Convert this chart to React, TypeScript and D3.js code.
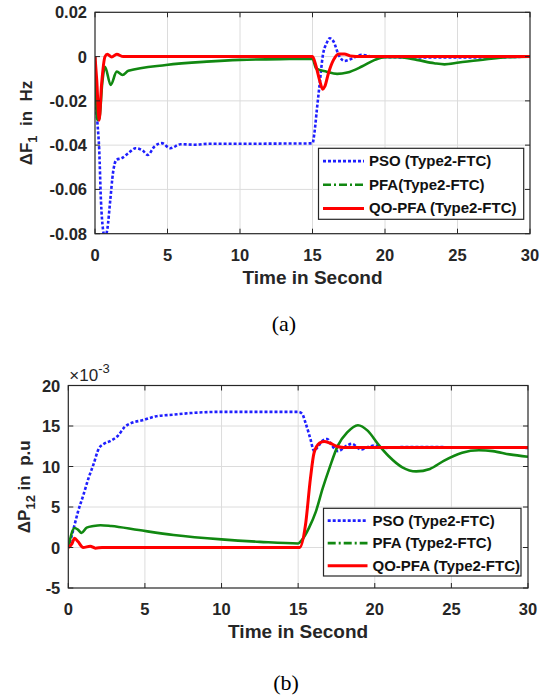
import React from 'react';
import * as d3 from 'd3';

const width = 545;
const height = 698;

// ---- data ----
const xTicks = [0, 5, 10, 15, 20, 25, 30];

const f1Ticks = [0.02, 0, -0.02, -0.04, -0.06, -0.08];
const p12Ticks = [20, 15, 10, 5, 0, -5];

const legendF1 = ['PSO (Type2-FTC)', 'PFA(Type2-FTC)', 'QO-PFA (Type2-FTC)'];
const legendP12 = ['PSO (Type2-FTC)', 'PFA (Type2-FTC)', 'QO-PFA (Type2-FTC)'];

// delta F1 (Hz)
const psoF1: [number, number][] = [
    [0, 0], [0.05, -0.018], [0.17, -0.03], [0.29, -0.042], [0.41, -0.065], [0.55, -0.078],
    [0.68, -0.0815], [0.85, -0.078], [1.05, -0.065], [1.24, -0.0526], [1.48, -0.0466],
    [1.84, -0.0459], [2.3, -0.0436], [2.8, -0.0414], [3.28, -0.0424], [3.64, -0.0444],
    [4.1, -0.0406], [4.6, -0.0391], [5.2, -0.0414], [5.9, -0.0396], [6.9, -0.0398],
    [7.8, -0.0394], [10, -0.0394], [12.5, -0.0393], [15.0, -0.0392], [15.13, -0.0346],
    [15.3, -0.024], [15.5, -0.012], [15.7, 0], [15.97, 0.006], [16.2, 0.0083],
    [16.45, 0.0068], [16.8, 0.0008], [17.2, -0.002], [17.5, -0.0015], [18.4, 0.0008],
    [19.1, 0], [22, -0.0004], [26, -0.0004], [30, 0],
];
const pfaF1: [number, number][] = [
    [0, 0], [0.16, -0.0286], [0.3, -0.028], [0.5, -0.012], [0.69, -0.0046], [1.08, -0.0128],
    [1.5, -0.0068], [1.9, -0.0083], [2.3, -0.0064], [4.9, -0.0038], [7.7, -0.0023],
    [10, -0.0015], [13.4, -0.0011], [15.0, -0.001], [15.25, -0.0053], [15.97, -0.0068],
    [16.7, -0.0078], [17.4, -0.0072], [18.4, -0.0045], [19.3, -0.0015], [20.0, -0.0003],
    [21, -0.0003], [22.2, -0.0015], [23.4, -0.003], [24.1, -0.0035], [25.1, -0.0027],
    [27, -0.0012], [28.4, -0.0003], [30, 0],
];
const qoF1: [number, number][] = [
    [0, 0], [0.12, -0.0106], [0.28, -0.0288], [0.46, -0.012], [0.69, 0], [0.85, 0.001],
    [1.15, -0.0002], [1.5, 0.001], [1.95, 0], [15.0, 0], [15.25, -0.0045], [15.5, -0.011],
    [15.7, -0.0147], [15.85, -0.0135], [16.1, -0.0075], [16.45, -0.0015], [16.8, 0.0012],
    [17.2, 0.0012], [17.6, 0.0003], [18.4, 0], [30, 0],
];

// delta P12 (x 10^-3 p.u)
const psoP12: [number, number][] = [
    [0, 0], [0.18, 1.14], [0.41, 2.8], [0.63, 4.4], [0.97, 6.4], [1.31, 8.5], [1.65, 10.3],
    [1.99, 12.2], [2.33, 12.8], [2.79, 13.2], [3.24, 13.8], [3.69, 14.9], [4.15, 15.4],
    [4.83, 15.7], [5.73, 16.2], [6.87, 16.4], [8, 16.6], [10, 16.75], [15.0, 16.75],
    [15.25, 16.55], [15.48, 15.4], [15.8, 13.4], [16.04, 11.9], [16.27, 12.4], [16.6, 13.2],
    [16.9, 13.4], [17.2, 12.6], [17.6, 11.9], [18.2, 12.6], [18.5, 12.8], [19.1, 12.1],
    [19.55, 12.4], [20, 12.6], [20.5, 12.3], [22, 12.4], [30, 12.3],
];
const pfaP12: [number, number][] = [
    [0, 0], [0.41, 2.4], [0.63, 2.2], [0.86, 1.8], [1.2, 2.45], [1.65, 2.65], [2.1, 2.75],
    [2.8, 2.65], [4.6, 2.15], [6.87, 1.55], [10, 1.0], [12.5, 0.7], [15.0, 0.5],
    [15.25, 0.95], [15.7, 2.4], [16.15, 4.4], [16.6, 7.3], [17.06, 9.9], [17.6, 12.6],
    [18.2, 14.2], [18.9, 15.1], [19.55, 14.4], [20.2, 12.8], [20.9, 11.3], [21.8, 9.9],
    [22.7, 9.4], [23.6, 9.7], [24.5, 10.7], [25.7, 11.7], [26.8, 12.0], [27.7, 11.9],
    [28.8, 11.5], [30, 11.2],
];
const qoP12: [number, number][] = [
    [0, 0], [0.25, 0.5], [0.41, 1.14], [0.63, 0.73], [0.97, 0], [1.43, 0.16], [1.77, -0.08],
    [2.2, 0], [15.1, 0], [15.48, 2.8], [15.8, 8.5], [16.04, 11.7], [16.4, 12.9],
    [16.7, 13.1], [17.06, 12.9], [17.5, 12.5], [17.97, 12.35], [30, 12.35],
];

const blue = '#1f1fff';
const green = '#118811';
const red = '#ff0000';
const axisColor = '#262626';
const font = "'Liberation Sans', Arial, sans-serif";

type Series = { data: [number, number][]; color: string; dash: string | null; w: number };

function Panel(props: any) {
    const { id, x0, x1, y0, y1, yDomain, yTicks, yFmt, series, legend, legBox, legLine, yLabel, yLabelX, caption, capX, capY, exponent } = props;
    const xScale = d3.scaleLinear().domain([0, 30]).range([x0, x1]);
    const yScale = d3.scaleLinear().domain(yDomain).range([y1, y0]);
    const line = d3.line<[number, number]>()
        .x(d => xScale(d[0]))
        .y(d => yScale(d[1]))
        .curve(d3.curveMonotoneX);
    const tl = 5;
    const legendStyles = [
        { color: blue, dash: '3,2', w: 2.6 },
        { color: green, dash: '8,3,2,3', w: 2.6 },
        { color: red, dash: null, w: 3 },
    ];
    return (
        <g>
            <defs>
                <clipPath id={id}>
                    <rect x={x0} y={y0} width={x1 - x0} height={y1 - y0} />
                </clipPath>
            </defs>
            <rect x={x0} y={y0} width={x1 - x0} height={y1 - y0} fill="#fff" />
            {/* grid */}
            {xTicks.slice(1, -1).map(t => (
                <line key={'gx' + t} x1={xScale(t)} x2={xScale(t)} y1={y0} y2={y1} stroke="#dcdcdc" strokeWidth={1} />
            ))}
            {yTicks.slice(1, -1).map((t: number) => (
                <line key={'gy' + t} x1={x0} x2={x1} y1={yScale(t)} y2={yScale(t)} stroke="#dcdcdc" strokeWidth={1} />
            ))}
            {/* series */}
            <g clipPath={`url(#${id})`}>
                {series.map((s: Series, i: number) => (
                    <path key={i} d={line(s.data) || ''} fill="none" stroke={s.color} strokeWidth={s.w}
                        strokeDasharray={s.dash || undefined} strokeLinejoin="round" />
                ))}
            </g>
            {/* box + inward ticks */}
            <rect x={x0} y={y0} width={x1 - x0} height={y1 - y0} fill="none" stroke={axisColor} strokeWidth={1.2} />
            {xTicks.map(t => (
                <g key={'tx' + t}>
                    <line x1={xScale(t)} x2={xScale(t)} y1={y1} y2={y1 - tl} stroke={axisColor} />
                    <line x1={xScale(t)} x2={xScale(t)} y1={y0} y2={y0 + tl} stroke={axisColor} />
                    <text x={xScale(t)} y={y1 + 27} textAnchor="middle" fontFamily={font} fontWeight="bold" fontSize={16.5} fill={axisColor}>{t}</text>
                </g>
            ))}
            {yTicks.map((t: number) => (
                <g key={'ty' + t}>
                    <line x1={x0} x2={x0 + tl} y1={yScale(t)} y2={yScale(t)} stroke={axisColor} />
                    <line x1={x1} x2={x1 - tl} y1={yScale(t)} y2={yScale(t)} stroke={axisColor} />
                    <text x={x0 - 8} y={yScale(t) + 6} textAnchor="end" fontFamily={font} fontWeight="bold" fontSize={16.5} fill={axisColor}>{yFmt(t)}</text>
                </g>
            ))}
            {exponent && (
                <text x={x0 + 1} y={y0 - 5} fontFamily={font} fontSize={17} fill={axisColor}>
                    ×10<tspan dy={-8} fontSize={13}>-3</tspan>
                </text>
            )}
            <text x={(x0 + x1) / 2} y={y1 + 50} textAnchor="middle" fontFamily={font} fontWeight="bold" fontSize={19} fill={axisColor}>Time in Second</text>
            <text transform={`translate(${yLabelX},${(y0 + y1) / 2}) rotate(-90)`} textAnchor="middle" fontFamily={font} fontWeight="bold" fontSize={17} fill={axisColor}>
                {yLabel[0]}<tspan fontSize={13} dy={5}>{yLabel[1]}</tspan><tspan dy={-5} xmlSpace="preserve">{yLabel[2]}</tspan>
            </text>
            {/* legend */}
            <rect x={legBox[0]} y={legBox[1]} width={legBox[2] - legBox[0]} height={legBox[3] - legBox[1]} fill="#fff" stroke={axisColor} strokeWidth={1.2} />
            {legend.map((name: string, i: number) => {
                const ly = legBox[1] + (legBox[3] - legBox[1]) * (i + 0.5) / 3 + 1;
                const st = legendStyles[i];
                return (
                    <g key={name}>
                        <line x1={legLine[0]} x2={legLine[1]} y1={ly} y2={ly} stroke={st.color} strokeWidth={st.w} strokeDasharray={st.dash || undefined} />
                        <text x={legLine[1] + 5} y={ly + 5} fontFamily={font} fontWeight="bold" fontSize={15} fill="#111">{name}</text>
                    </g>
                );
            })}
            <text x={capX} y={capY} textAnchor="middle" fontFamily="'Liberation Serif', 'Times New Roman', serif" fontSize={22} fill="#000">{caption}</text>
        </g>
    );
}

export default function App() {
    const fmtF1 = (v: number) => (v === 0 ? '0' : v.toFixed(2));
    const fmtP = (v: number) => String(v);
    return (
        <svg width={width} height={height} style={{ position: 'absolute', left: 0, top: 0, background: '#fff' }}>
            <rect width={width} height={height} fill="#fff" />
            <Panel id="clipA" x0={95} x1={530} y0={12.3} y1={233.7}
                yDomain={[-0.08, 0.02]} yTicks={f1Ticks} yFmt={fmtF1}
                series={[
                    { data: psoF1, color: blue, dash: '3,2', w: 2.6 },
                    { data: pfaF1, color: green, dash: null, w: 2.6 },
                    { data: qoF1, color: red, dash: null, w: 3 },
                ]}
                legend={legendF1} legBox={[318.5, 148.3, 523.7, 219.3]} legLine={[323, 364]}
                yLabel={['ΔF', '1', '  in  Hz']} yLabelX={32}
                caption="(a)" capX={284} capY={331} exponent={false} />
            <Panel id="clipB" x0={68.3} x1={528} y0={385.5} y1={588}
                yDomain={[-5, 20]} yTicks={p12Ticks} yFmt={fmtP}
                series={[
                    { data: psoP12, color: blue, dash: '3,2', w: 2.6 },
                    { data: pfaP12, color: green, dash: null, w: 2.6 },
                    { data: qoP12, color: red, dash: null, w: 3 },
                ]}
                legend={legendP12} legBox={[323.5, 508.3, 521, 576]} legLine={[327.7, 367.5]}
                yLabel={['ΔP', '12', ' in  p.u']} yLabelX={30}
                caption="(b)" capX={286} capY={690} exponent={true} />
        </svg>
    );
}
